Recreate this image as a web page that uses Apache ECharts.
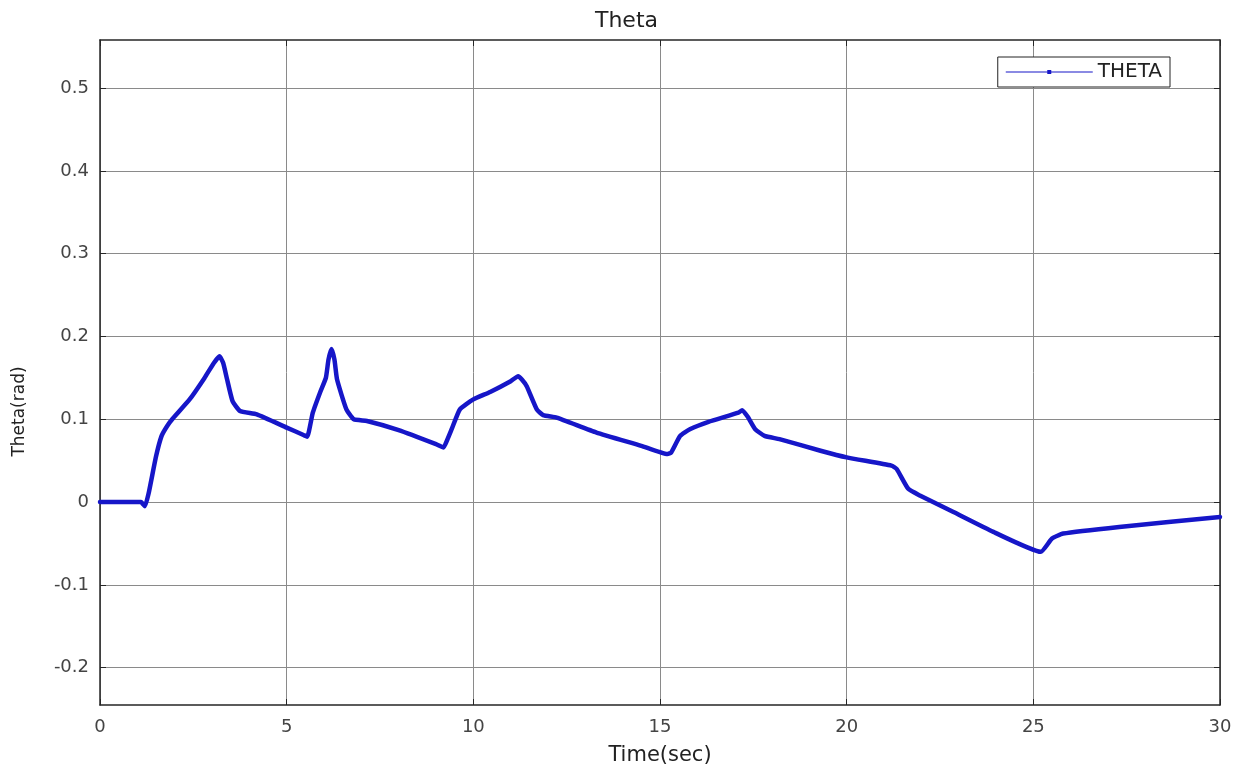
<!DOCTYPE html>
<html>
<head>
<meta charset="utf-8">
<script src="https://cdn.jsdelivr.net/npm/echarts@6/dist/echarts.min.js"></script>
<style>
html,body{margin:0;padding:0;background:#fff;}
#c{width:1253px;height:771px;}
</style>
</head>
<body>
<div id="c"></div>
<script>
var timeSec = [0, 0.5, 1.0, 1.1, 1.2, 1.3, 1.5, 1.65, 1.8, 1.95, 2.4, 2.8, 3.05, 3.2, 3.3, 3.4, 3.55, 3.75, 4.2, 5.0, 5.45, 5.55, 5.7, 5.9, 6.05, 6.12, 6.2, 6.28, 6.35, 6.6, 6.8, 7.15, 8.0, 9.0, 9.2, 9.3, 9.42, 9.64, 10.0, 10.45, 11.0, 11.2, 11.3, 11.43, 11.7, 11.87, 12.23, 13.3, 14.5, 15.2, 15.3, 15.54, 15.8, 16.3, 17.1, 17.2, 17.35, 17.55, 17.8, 18.2, 19.3, 20.0, 21.2, 21.34, 21.65, 21.96, 22.86, 23.93, 25.2, 25.5, 25.8, 27.3, 30];
var thetaRad = [0, 0, 0, 0, -0.005, 0.010, 0.055, 0.080, 0.092, 0.101, 0.124, 0.150, 0.168, 0.176, 0.168, 0.149, 0.122, 0.110, 0.106, 0.090, 0.081, 0.079, 0.108, 0.133, 0.150, 0.172, 0.185, 0.172, 0.148, 0.112, 0.100, 0.098, 0.087, 0.070, 0.066, 0.075, 0.088, 0.112, 0.124, 0.133, 0.146, 0.152, 0.148, 0.140, 0.112, 0.105, 0.102, 0.084, 0.068, 0.058, 0.060, 0.080, 0.088, 0.097, 0.108, 0.111, 0.103, 0.088, 0.080, 0.076, 0.062, 0.054, 0.044, 0.040, 0.016, 0.008, -0.012, -0.036, -0.060, -0.044, -0.038, -0.030, -0.018];
var yTicks = [-0.2, -0.1, 0, 0.1, 0.2, 0.3, 0.4, 0.5];
var xTicks = [0, 5, 10, 15, 20, 25, 30];

var pts = timeSec.map(function (t, i) { return [t, thetaRad[i]]; });
var font = 'DejaVu Sans';
var chart = echarts.init(document.getElementById('c'), null, {renderer: 'canvas'});
var gridLine = {show: true, lineStyle: {color: '#8a8a8a', width: 1}};
var axisLine = {show: true, onZero: false, lineStyle: {color: '#262626', width: 1.5}};
chart.setOption({
  animation: false,
  backgroundColor: '#fff',
  title: {
    text: 'Theta', left: 'center', top: 5,
    textStyle: {fontFamily: font, fontSize: 22, fontWeight: 'normal', color: '#222'}
  },
  legend: {
    right: 83, top: 57,
    padding: [5, 8, 5, 8],
    borderColor: '#222', borderWidth: 1, backgroundColor: '#fff',
    itemWidth: 87, itemHeight: 6, itemGap: 4,
    icon: 'path://M0,2.4 H87 V3.6 H0 Z M41.5,1 H45.5 V5 H41.5 Z',
    textStyle: {fontFamily: font, fontSize: 20, color: '#222'},
    data: ['THETA']
  },
  grid: {left: 100, top: 40, right: 33, bottom: 64, show: false},
  xAxis: [{
    type: 'value', min: 0, max: 30, interval: 5,
    name: 'Time(sec)', nameLocation: 'middle', nameGap: 40,
    nameTextStyle: {fontFamily: font, fontSize: 21, color: '#222'},
    axisLine: axisLine,
    axisTick: {show: true, inside: true, length: 6, lineStyle: {color: '#262626'}},
    axisLabel: {fontFamily: font, fontSize: 18, color: '#444', margin: 13},
    splitLine: gridLine
  }, {
    type: 'value', min: 0, max: 30, interval: 5, position: 'top',
    axisLine: axisLine,
    axisTick: {show: true, inside: true, length: 6, lineStyle: {color: '#262626'}},
    axisLabel: {show: false}, splitLine: {show: false}
  }],
  yAxis: [{
    type: 'value', min: -0.245, max: 0.558,
    name: 'Theta(rad)', nameLocation: 'middle', nameGap: 72, nameRotate: 90,
    nameTextStyle: {fontFamily: font, fontSize: 17, color: '#222', padding: [0, 0, 0, -78]},
    axisLine: axisLine,
    axisTick: {show: true, inside: true, length: 6, customValues: yTicks, lineStyle: {color: '#262626'}},
    axisLabel: {fontFamily: font, fontSize: 18, color: '#444', margin: 11, customValues: yTicks,
      formatter: function (v) { return String(Math.round(v * 10) / 10); }},
    splitLine: gridLine
  }, {
    type: 'value', min: -0.245, max: 0.558, position: 'right',
    axisLine: axisLine,
    axisTick: {show: true, inside: true, length: 6, customValues: yTicks, lineStyle: {color: '#262626'}},
    axisLabel: {show: false}, splitLine: {show: false}
  }],
  series: [{
    name: 'THETA', type: 'line', data: pts,
    xAxisIndex: 0, yAxisIndex: 0,
    showSymbol: false, smooth: 0.15,
    itemStyle: {color: '#1616c8'},
    lineStyle: {color: '#1616c8', width: 4.5, join: 'round', cap: 'round'}
  }]
});
</script>
</body>
</html>
